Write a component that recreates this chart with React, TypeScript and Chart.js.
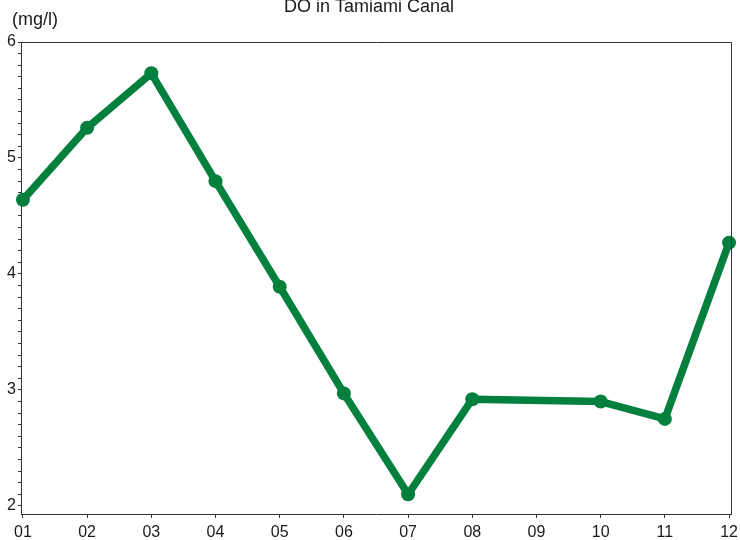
import React, { useEffect, useRef } from "react";
import { Chart, registerables } from "chart.js";

Chart.register(...registerables);

const months = ["01", "02", "03", "04", "05", "06", "07", "08", "09", "10", "11", "12"];
const doValues: (number | null)[] = [4.64, 5.26, 5.73, 4.8, 3.89, 2.97, 2.1, 2.92, null, 2.9, 2.75, 4.27];
const yTickLabels = ["2", "3", "4", "5", "6"];
const title = "DO in Tamiami Canal";
const unitLabel = "(mg/l)";

const FONT = '"Liberation Sans", Arial, sans-serif';
const TEXT = "#1a1a1a";
const AXIS = "#333333";
const GREEN = "#037F3E";

const decorPlugin = {
  id: "decor",
  afterDraw(chart: any) {
    const { ctx, chartArea } = chart;
    ctx.save();
    ctx.strokeStyle = AXIS;
    ctx.lineWidth = 1;
    ctx.beginPath();
    ctx.moveTo(chartArea.left, chartArea.top + 0.5);
    ctx.lineTo(chartArea.right + 0.5, chartArea.top + 0.5);
    ctx.lineTo(chartArea.right + 0.5, chartArea.bottom);
    ctx.stroke();
    ctx.fillStyle = TEXT;
    ctx.font = `18px ${FONT}`;
    ctx.textBaseline = "alphabetic";
    ctx.textAlign = "center";
    ctx.fillText(title, 369, 12);
    ctx.textAlign = "left";
    ctx.fillText(unitLabel, 12, 25);
    ctx.restore();
  },
};

export default function App() {
  const ref = useRef<HTMLCanvasElement | null>(null);
  useEffect(() => {
    if (!ref.current) return;
    const chart = new Chart(ref.current, {
      type: "line",
      data: {
        datasets: [
          {
            data: months.map((m, i) => ({ x: i + 1, y: doValues[i] })) as any,
            borderColor: GREEN,
            backgroundColor: GREEN,
            borderWidth: 7.5,
            pointRadius: 7,
            pointBorderWidth: 0,
            pointBackgroundColor: GREEN,
            borderJoinStyle: "round",
            borderCapStyle: "round",
            spanGaps: true,
            tension: 0,
            clip: false as any,
          },
        ],
      },
      options: {
        animation: false,
        responsive: false,
        layout: { autoPadding: false, padding: { top: 42, right: 9, left: 0, bottom: 0 } },
        plugins: { legend: { display: false }, tooltip: { enabled: false }, title: { display: false } },
        scales: {
          x: {
            type: "linear",
            min: 0.97,
            max: 12.03,
            afterFit: (s: any) => {
              s.height = 26;
              s.paddingLeft = 0;
              s.paddingRight = 0;
            },
            border: { display: true, color: AXIS, width: 1 },
            grid: { drawOnChartArea: false, drawTicks: true, tickLength: 4, color: AXIS },
            ticks: {
              stepSize: 1,
              includeBounds: false,
              autoSkip: false,
              maxRotation: 0,
              padding: 5,
              color: TEXT,
              font: { family: FONT, size: 16 },
              callback: (v: any) => {
                const n = Number(v);
                return Number.isInteger(n) && n >= 1 && n <= 12 ? months[n - 1] : "";
              },
            },
          },
          y: {
            type: "linear",
            min: 1.93,
            max: 6,
            afterFit: (s: any) => {
              s.width = 21;
              s.paddingTop = 0;
              s.paddingBottom = 0;
            },
            border: { display: true, color: AXIS, width: 1 },
            grid: { drawOnChartArea: false, drawTicks: true, tickLength: 3, color: AXIS },
            ticks: {
              stepSize: 0.1,
              includeBounds: false,
              autoSkip: false,
              padding: 2,
              color: TEXT,
              font: { family: FONT, size: 16 },
              callback: (v: any) => {
                const n = Number(v);
                const r = Math.round(n);
                return Math.abs(n - r) < 1e-6 && yTickLabels.includes(String(r)) ? String(r) : "";
              },
            },
          },
        },
      },
      plugins: [decorPlugin],
    });
    return () => chart.destroy();
  }, []);
  return (
    <div style={{ position: "fixed", left: 0, top: 0, width: 740, height: 540, background: "#fff" }}>
      <canvas ref={ref} width={740} height={540} style={{ width: 740, height: 540, display: "block" }} />
    </div>
  );
}
